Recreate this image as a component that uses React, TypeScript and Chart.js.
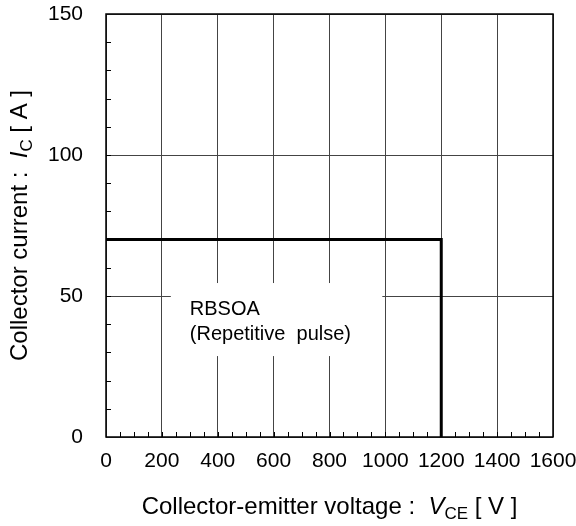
import React, { useEffect, useRef } from "react";
import { Chart, registerables } from "chart.js";

Chart.register(...registerables);

const voltage = [0, 1200, 1200];
const current = [70, 70, 0];
const xTicks = [0, 200, 400, 600, 800, 1000, 1200, 1400, 1600];
const yTicks = [0, 50, 100, 150];
const noteLines = ["RBSOA", "(Repetitive  pulse)"];

const FONT = "'Liberation Sans', Arial, sans-serif";

type Seg = { t: string; italic?: boolean; sub?: boolean };
const xTitle: Seg[] = [
  { t: "Collector-emitter voltage :  " },
  { t: "V", italic: true },
  { t: "CE", sub: true },
  { t: " [ V ]" },
];
const yTitle: Seg[] = [
  { t: "Collector current :  " },
  { t: "I", italic: true },
  { t: "C", sub: true },
  { t: " [ A ]" },
];

function segFont(s: Seg, size: number) {
  const sz = s.sub ? Math.round(size * 0.72) : size;
  return `${s.italic ? "italic " : ""}${sz}px ${FONT}`;
}

function drawSegs(ctx: CanvasRenderingContext2D, segs: Seg[], cx: number, cy: number, size: number) {
  let total = 0;
  for (const s of segs) {
    ctx.font = segFont(s, size);
    total += ctx.measureText(s.t).width;
  }
  let x = cx - total / 2;
  ctx.textBaseline = "alphabetic";
  ctx.textAlign = "left";
  for (const s of segs) {
    ctx.font = segFont(s, size);
    ctx.fillText(s.t, x, cy + (s.sub ? size * 0.2 : 0));
    x += ctx.measureText(s.t).width;
  }
}

const decor = {
  id: "decor",
  beforeDatasetsDraw(chart: any) {
    const { ctx, chartArea: a, scales } = chart;
    const xs = scales.x;
    const ys = scales.y;
    ctx.save();
    // white note box
    const bx0 = xs.getPixelForValue(232);
    const bx1 = xs.getPixelForValue(989);
    const by0 = ys.getPixelForValue(54.6);
    const by1 = ys.getPixelForValue(28.7);
    ctx.fillStyle = "#ffffff";
    ctx.fillRect(bx0, by0, bx1 - bx0, by1 - by0);
    ctx.fillStyle = "#000";
    ctx.font = `20px ${FONT}`;
    ctx.textAlign = "left";
    ctx.textBaseline = "alphabetic";
    const tx = xs.getPixelForValue(300);
    ctx.fillText(noteLines[0], tx, ys.getPixelForValue(43.3));
    ctx.fillText(noteLines[1], tx, ys.getPixelForValue(34.4));
    // minor ticks
    ctx.strokeStyle = "#000";
    ctx.lineWidth = 1;
    ctx.beginPath();
    for (let v = 50; v < 1600; v += 50) {
      const px = Math.round(xs.getPixelForValue(v)) + 0.5;
      ctx.moveTo(px, a.bottom);
      ctx.lineTo(px, a.bottom - 5);
    }
    for (let v = 10; v < 150; v += 10) {
      const py = Math.round(ys.getPixelForValue(v)) + 0.5;
      ctx.moveTo(a.left, py);
      ctx.lineTo(a.left + 5, py);
    }
    ctx.stroke();
    // frame
    ctx.lineWidth = 1.5;
    ctx.strokeRect(a.left, a.top, a.right - a.left, a.bottom - a.top);
    ctx.restore();
  },
  afterDraw(chart: any) {
    const { ctx, chartArea: a } = chart;
    ctx.save();
    ctx.fillStyle = "#000";
    drawSegs(ctx, xTitle, (a.left + a.right) / 2, 514, 24);
    ctx.translate(27, (a.top + a.bottom) / 2);
    ctx.rotate(-Math.PI / 2);
    drawSegs(ctx, yTitle, 0, 0, 24);
    ctx.restore();
  },
};

export default function App() {
  const ref = useRef<HTMLCanvasElement | null>(null);
  useEffect(() => {
    if (!ref.current) return;
    const chart = new Chart(ref.current, {
      type: "scatter",
      data: {
        datasets: [
          {
            data: voltage.map((v, i) => ({ x: v, y: current[i] })),
            showLine: true,
            borderColor: "#000",
            borderWidth: 3,
            pointRadius: 0,
            fill: false,
          },
        ],
      },
      options: {
        animation: false,
        responsive: true,
        maintainAspectRatio: false,
        layout: { padding: { left: 0, top: 14, right: 23, bottom: 0 } },
        plugins: { legend: { display: false }, tooltip: { enabled: false } },
        scales: {
          x: {
            type: "linear",
            min: 0,
            max: 1600,
            afterFit: (s: any) => {
              s.height = 89;
              s.paddingLeft = 0;
              s.paddingRight = 0;
            },
            afterBuildTicks: (s: any) => {
              s.ticks = xTicks.map((v) => ({ value: v }));
            },
            grid: { color: "#444", lineWidth: 1, drawTicks: false },
            border: { display: false },
            ticks: {
              color: "#000",
              font: { family: FONT, size: 21 },
              padding: 12,
              maxRotation: 0,
              autoSkip: false,
              callback: (v: any) => String(v),
            },
          },
          y: {
            type: "linear",
            min: 0,
            max: 150,
            afterFit: (s: any) => {
              s.width = 106;
              s.paddingTop = 0;
              s.paddingBottom = 0;
            },
            afterBuildTicks: (s: any) => {
              s.ticks = yTicks.map((v) => ({ value: v }));
            },
            grid: { color: "#444", lineWidth: 1, drawTicks: false },
            border: { display: false },
            ticks: {
              color: "#000",
              font: { family: FONT, size: 21 },
              padding: 23,
              autoSkip: false,
              callback: (v: any) => String(v),
            },
          },
        },
      },
      plugins: [decor],
    });
    return () => chart.destroy();
  }, []);
  return (
    <div style={{ position: "fixed", left: 0, top: 0, width: 576, height: 526, background: "#fff" }}>
      <canvas ref={ref} />
    </div>
  );
}
